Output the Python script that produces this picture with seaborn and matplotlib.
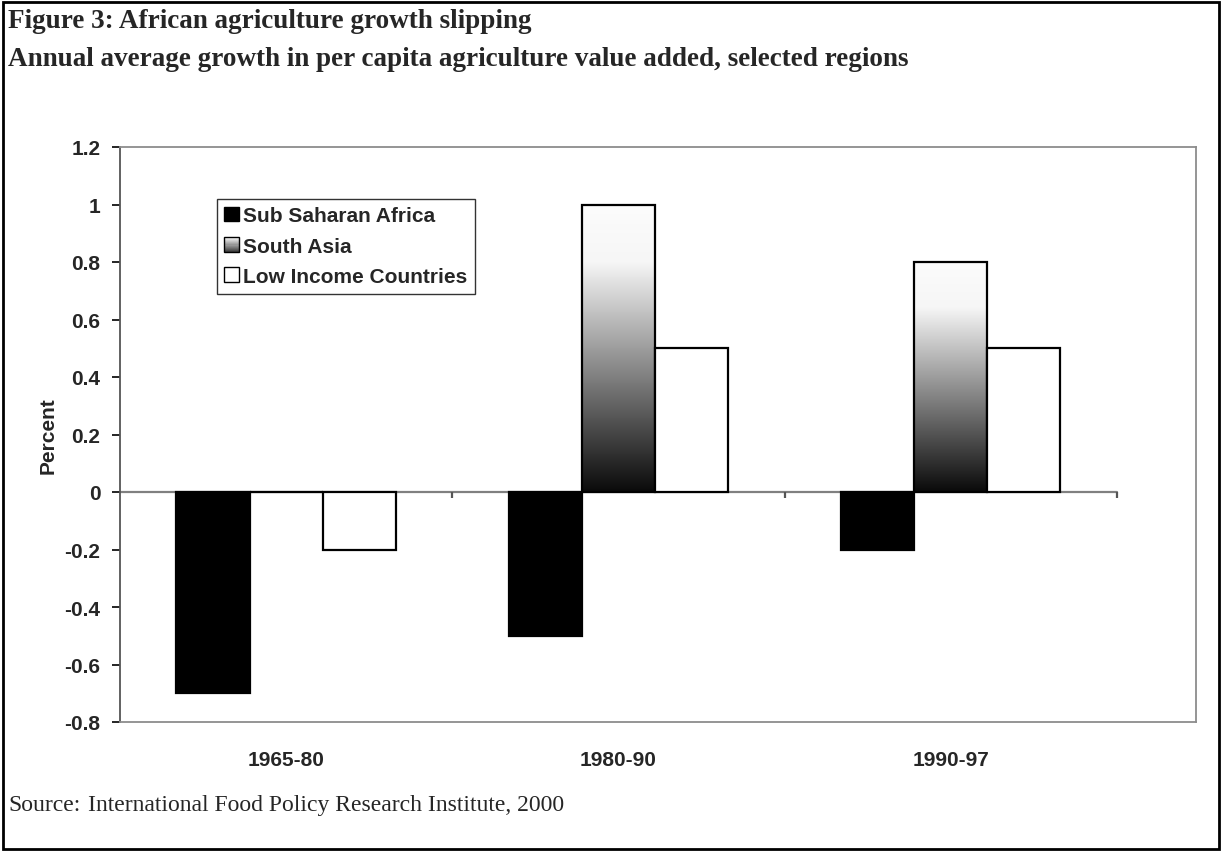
import numpy as np
import pandas as pd
import matplotlib
matplotlib.use("Agg")
import matplotlib.pyplot as plt
import seaborn as sns
from matplotlib.patches import Rectangle, Patch
from matplotlib.colors import LinearSegmentedColormap
from matplotlib.legend_handler import HandlerBase

# ---- data -------------------------------------------------------------
periods = ["1965-80", "1980-90", "1990-97"]
regions = ["Sub Saharan Africa", "South Asia", "Low Income Countries"]
sub_saharan_africa = [-0.7, -0.5, -0.2]
south_asia = [0.0, 1.0, 0.8]
low_income = [-0.2, 0.5, 0.5]
y_ticks = [-0.8, -0.6, -0.4, -0.2, 0, 0.2, 0.4, 0.6, 0.8, 1, 1.2]

df = pd.DataFrame({
    "period": periods * 3,
    "region": [regions[0]] * 3 + [regions[1]] * 3 + [regions[2]] * 3,
    "growth": sub_saharan_africa + south_asia + low_income,
})

sns.set_theme(style="white")
plt.rcParams["font.family"] = ["Liberation Sans", "DejaVu Sans"]

SANS = ["Liberation Sans", "DejaVu Sans"]
SERIF = ["Liberation Serif", "DejaVu Serif"]
FS = 15

# vertical grey ramp used for the South Asia bars: white top, black base
ramp = LinearSegmentedColormap.from_list(
    "ramp", [(0.0, "#0a0a0a"), (0.8, "#f6f6f6"), (1.0, "#fcfcfc")])

fig = plt.figure(figsize=(12.22, 8.53), dpi=100)
ax = fig.add_axes([120 / 1222, 1 - 723 / 853, 1076 / 1222, 575 / 853])

sns.barplot(data=df, x="period", y="growth", hue="region",
            order=periods, hue_order=regions,
            palette=["#000000", "#808080", "#ffffff"], saturation=1,
            width=0.66, edgecolor="black", linewidth=1.6,
            legend=False, ax=ax, zorder=3)

xmax = 2.5 + 79 / 332
ax.set_xlim(-0.5, xmax)
ax.set_ylim(-0.8, 1.2)

# gradient fill for the South Asia bars
grad = np.linspace(1, 0, 256).reshape(-1, 1)
for patch in ax.containers[1]:
    x0, y0 = patch.get_x(), patch.get_y()
    w, h = patch.get_width(), patch.get_height()
    if abs(h) < 1e-9:
        continue
    lo, hi = min(y0, y0 + h), max(y0, y0 + h)
    im = ax.imshow(grad, extent=[x0, x0 + w, lo, hi], aspect="auto",
                   cmap=ramp, vmin=0, vmax=1, zorder=2.5, interpolation="bilinear")
    im.set_clip_path(patch)
    patch.set_facecolor("none")
ax.set_xlim(-0.5, xmax)
ax.set_ylim(-0.8, 1.2)
ax.set_aspect("auto")

# category axis along zero, with separators between periods
ax.axhline(0, xmin=0, xmax=3 / (xmax + 0.5), color="#808080", lw=1.6, zorder=2)
ax.vlines([0.5, 1.5, 2.5], -0.022, 0, color="#555555", lw=1.6, zorder=2)

for side in ["top", "right", "bottom"]:
    ax.spines[side].set_color("#8c8c8c")
    ax.spines[side].set_linewidth(1.3)
ax.spines["left"].set_color("#555555")
ax.spines["left"].set_linewidth(1.3)

ax.set_yticks(y_ticks)
ax.set_yticklabels([f"{v:g}" for v in y_ticks], fontsize=FS, fontweight="bold", family=SANS)
ax.tick_params(axis="y", direction="out", length=6, width=1.2, color="black", pad=8, left=True)
ax.tick_params(axis="x", length=0, pad=20)
for lab in ax.get_xticklabels():
    lab.set_fontsize(FS)
    lab.set_fontweight("bold")
    lab.set_family(SANS)
ax.set_xlabel("")
ax.set_ylabel("Percent", fontsize=FS, fontweight="bold", family=SANS, labelpad=5)
ax.grid(False)


class RampHandler(HandlerBase):
    def create_artists(self, legend, orig_handle, xdescent, ydescent,
                       width, height, fontsize, trans):
        out = []
        n = 14
        for i in range(n):
            c = ramp(0.15 + 0.7 * (i + 0.5) / n)
            out.append(Rectangle((-xdescent, -ydescent + height * i / n), width, height / n,
                                 facecolor=c, edgecolor="none", transform=trans))
        out.append(Rectangle((-xdescent, -ydescent), width, height, facecolor="none",
                             edgecolor="black", lw=1, transform=trans))
        return out


handles = [Patch(facecolor="black", edgecolor="black", lw=1),
           Patch(facecolor="#888888", edgecolor="black", lw=1),
           Patch(facecolor="white", edgecolor="black", lw=1)]
leg = ax.legend(handles, regions, loc="upper left",
                bbox_to_anchor=(97 / 1076, (723 - 200) / 575),
                handler_map={handles[1]: RampHandler()},
                prop={"family": SANS, "weight": "bold", "size": FS},
                frameon=True, fancybox=False, handlelength=0.72, handleheight=0.72,
                handletextpad=0.2, borderpad=0.35, labelspacing=0.55,
                borderaxespad=0)
leg.get_frame().set_edgecolor("black")
leg.get_frame().set_linewidth(1.0)
leg.set_zorder(5)

# headings and source note
fig.text(8 / 1222, 1 - 22 / 853, "Figure 3: African agriculture growth slipping",
         family=SERIF, fontweight="bold", fontsize=19.5, va="center", ha="left")
fig.text(8 / 1222, 1 - 60 / 853,
         "Annual average growth in per capita agriculture value added, selected regions",
         family=SERIF, fontweight="bold", fontsize=19.5, va="center", ha="left")
fig.text(8 / 1222, 1 - 811 / 853, "Source:", family=SERIF, fontsize=17, va="baseline", ha="left")
fig.text(88 / 1222, 1 - 811 / 853, "International Food Policy Research Institute, 2000",
         family=SERIF, fontsize=17, va="baseline", ha="left")

# outer frame
fig.add_artist(Rectangle((3 / 1222, 3 / 853), 1216 / 1222, 847 / 853, transform=fig.transFigure,
                         facecolor="none", edgecolor="black", lw=2))

fig.savefig("out.png", dpi=100)
